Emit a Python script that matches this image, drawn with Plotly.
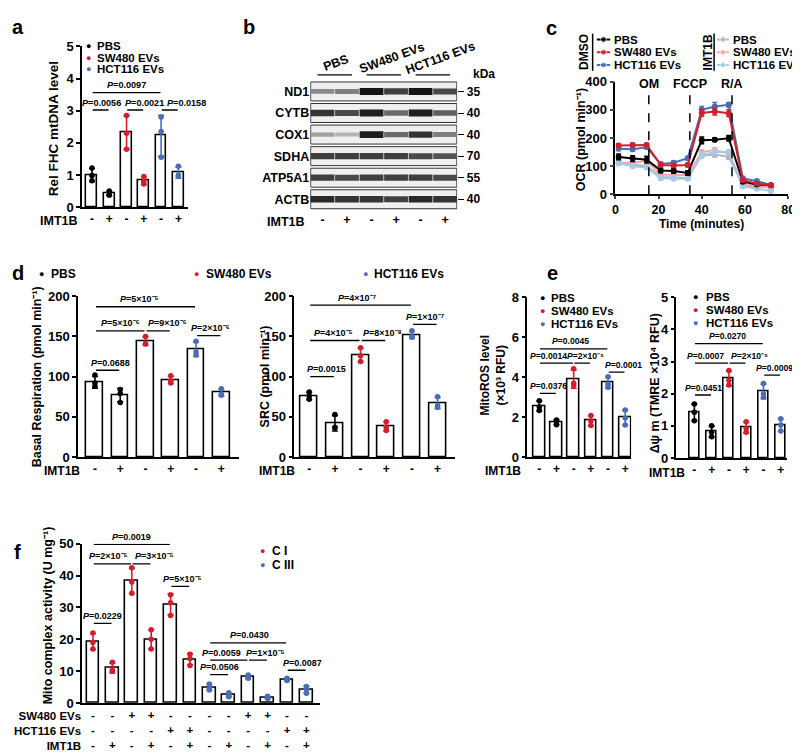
import numpy as np
import plotly.graph_objects as go

W, H = 800, 754
FONT = "Liberation Sans"
BLACK, RED, BLUE = "#000000", "#d0202e", "#4a6db4"
GREY, PINK, LBLUE = "#b5b5b5", "#f3a6ae", "#a6cbe9"

# ---------------- data ----------------
groups = ["PBS", "SW480 EVs", "HCT116 EVs"]
group_colors = [BLACK, RED, BLUE]
imt1b_signs = ["-", "+", "-", "+", "-", "+"]
bar_colors = [BLACK, BLACK, RED, RED, BLUE, BLUE]

# panel a : relative mtDNA level
a_mean = [1.0, 0.42, 2.32, 0.82, 2.22, 1.07]
a_pts = [[1.22, 0.98, 0.82], [0.50, 0.38, 0.38], [2.85, 2.30, 1.80],
         [0.95, 0.80, 0.72], [2.80, 2.35, 1.55], [1.27, 1.00, 0.95]]
# (bar i, bar j, bracket height, P value, text x-shift in px)
a_p = [(0, 4, 3.56, "0.0097", 0), (0, 1, 3.02, "0.0056", 1),
       (2, 3, 3.02, "0.0021", 9), (4, 5, 3.02, "0.0158", 17)]

# panel b : western blot (relative band darkness)
blot_rows = ["ND1", "CYTB", "COX1", "SDHA", "ATP5A1", "ACTB"]
blot_kda = ["35", "40", "40", "70", "55", "40"]
band = [
    [0.45, 0.50, 1.00, 0.80, 1.00, 0.75],
    [0.85, 0.75, 0.95, 0.60, 0.95, 0.65],
    [0.35, 0.25, 0.95, 0.60, 0.85, 0.50],
    [0.80, 0.80, 0.80, 0.80, 0.75, 0.70],
    [0.80, 0.75, 0.80, 0.80, 0.80, 0.75],
    [0.90, 0.85, 0.85, 0.80, 0.90, 0.85],
]

# panel c : OCR time course
c_time = [1.5, 8, 14.5, 21, 27, 33.5, 40, 46, 52.5, 59, 65.5, 72]
c_pbs = [133, 127, 123, 85, 83, 76, 192, 194, 199, 45, 35, 32]
c_sw = [173, 175, 175, 104, 102, 104, 289, 294, 288, 50, 38, 32]
c_hct = [162, 160, 167, 108, 112, 128, 300, 312, 318, 57, 47, 33]
c_pbs_i = [113, 106, 100, 62, 60, 58, 138, 141, 133, 33, 27, 26]
c_sw_i = [112, 112, 118, 70, 70, 68, 150, 157, 145, 37, 30, 23]
c_hct_i = [110, 100, 95, 57, 55, 55, 140, 150, 150, 28, 20, 12]
c_err_pbs = [10, 10, 12, 8, 8, 8, 12, 6, 10, 5, 4, 4]
c_err_sw = [6, 6, 6, 6, 6, 6, 12, 12, 12, 5, 4, 4]
c_err_hct = [6, 6, 6, 6, 6, 6, 12, 14, 8, 5, 5, 4]
c_err_i = [8, 6, 6, 6, 5, 5, 8, 8, 8, 4, 3, 3]
injections = [15.5, 34.5, 54.0]
injection_labels = ["OM", "FCCP", "R/A"]

# panel d
d_basal_mean = [93, 77, 144, 96, 134, 80]
d_basal_pts = [[102, 92, 88], [84, 79, 68], [150, 141, 141],
               [101, 95, 92], [144, 131, 127], [85, 78, 77]]
d_basal_p = [(0, 4, 187, "5×10⁻⁵", -6), (0, 2, 157, "5×10⁻⁶", 0),
             (2, 3, 157, "9×10⁻⁶", 9), (4, 5, 151, "2×10⁻⁶", 2),
             (0, 1, 108, "0.0688", 3)]
d_src_mean = [76, 42, 127, 38, 152, 67]
d_src_pts = [[81, 76, 72], [53, 37, 36], [136, 126, 119],
             [44, 37, 33], [157, 150, 149], [75, 64, 62]]
d_src_p = [(0, 4, 189, "4×10⁻⁷", -3), (0, 2, 145, "4×10⁻⁵", -1),
           (2, 3, 145, "8×10⁻⁸", 9), (4, 5, 165, "1×10⁻⁷", 1),
           (0, 1, 100, "0.0015", 4)]

# panel e
e_ros_mean = [2.55, 1.75, 3.90, 1.82, 3.72, 1.97]
e_ros_pts = [[2.82, 2.50, 2.33], [1.85, 1.78, 1.62], [4.42, 3.70, 3.58],
             [2.08, 1.80, 1.58], [4.02, 3.65, 3.49], [2.36, 1.95, 1.60]]
e_ros_p = [(0, 4, 5.42, "0.0045", -3), (0, 2, 4.70, "0.0014", -8),
           (2, 3, 4.70, "2×10⁻⁵", 3), (4, 5, 4.25, "0.0001", 7),
           (0, 1, 3.19, "0.0376", 1)]
e_tmre_mean = [1.42, 0.82, 2.47, 0.95, 2.07, 1.03]
e_tmre_pts = [[1.68, 1.42, 1.16], [1.00, 0.80, 0.66], [2.72, 2.42, 2.27],
              [1.13, 0.92, 0.80], [2.32, 2.00, 1.89], [1.22, 1.03, 0.84]]
e_tmre_p = [(0, 4, 3.56, "0.0270", -1), (0, 2, 2.95, "0.0007", -6),
            (2, 3, 2.95, "2×10⁻⁵", 12), (4, 5, 2.58, "0.0009", 2),
            (0, 1, 1.96, "0.0451", 1)]

# panel f
f_labels = ["C I", "C III"]
f_mean = [19.3, 11.0, 38.3, 20.0, 31.0, 13.7, 4.9, 2.5, 8.2, 1.7, 7.4, 4.2]
f_pts = [[22, 19, 17], [12.8, 10.3, 10], [42.5, 38, 34.5], [23, 20, 17],
         [34, 31.5, 27.5], [15.3, 14, 11.8], [6, 4.6, 4.1], [3.2, 2.3, 2.0],
         [8.8, 8.0, 7.8], [2.1, 1.6, 1.4], [7.8, 7.3, 7.1], [5.2, 4.3, 3.1]]
f_colors = [RED] * 6 + [BLUE] * 6
f_p = [(0, 4, 49.8, "0.0019", 0), (0, 2, 43.7, "2×10⁻⁵", -4),
       (2, 3, 43.7, "3×10⁻⁵", 13), (4, 5, 36.6, "5×10⁻⁵", 2),
       (0, 1, 25.0, "0.0229", 0), (6, 10, 18.9, "0.0430", 1),
       (6, 8, 13.5, "0.0059", -7), (8, 9, 13.5, "1×10⁻⁵", 8),
       (6, 7, 8.9, "0.0506", 0), (10, 11, 10.3, "0.0087", 6)]
f_sw = ["-", "-", "+", "+", "-", "-", "-", "-", "+", "+", "-", "-"]
f_hct = ["-", "-", "-", "-", "+", "+", "-", "-", "-", "-", "+", "+"]
f_imt = ["-", "+"] * 6

# ---------------- helpers ----------------
fig = go.Figure()
ann, shapes, lay = [], [], {}


def px(x):
    return x / W


def py(y):
    return 1 - y / H


def axref(n, k):
    return k if n == 1 else f"{k}{n}"


def axkey(n, k):
    return f"{k}axis" if n == 1 else f"{k}axis{n}"


def F(size, color="black"):
    return dict(family=FONT, size=size, color=color, weight="bold")


def text(x, y, s, size=12, anchor="center", color="black", angle=0, align="center"):
    ann.append(dict(xref="paper", yref="paper", x=px(x), y=py(y), text=s,
                    showarrow=False, xanchor=anchor, yanchor="middle",
                    textangle=angle, align=align, font=F(size, color)))


def vline_paper(x, y0, y1, w=1.5):
    shapes.append(dict(type="line", xref="paper", yref="paper", x0=px(x), x1=px(x),
                       y0=py(y0), y1=py(y1), line=dict(color="black", width=w)))


def dot_legend(xdot, xtext, ys, names, colors, size=11.5, dsize=9):
    for y, nm, c in zip(ys, names, colors):
        text(xdot, y, "●", size=dsize, color=c)
        text(xtext, y, nm, size=size, anchor="left")


def bar_panel(n, xdom, c0, step, ydom, yr, dtick, means, pts, cols, brackets,
              ticktext, bw, psize):
    xr, yrf = axref(n, "x"), axref(n, "y")
    idx = list(range(len(means)))
    fig.add_trace(go.Bar(x=idx, y=means, width=bw,
                         marker=dict(color="white", line=dict(color="black", width=1.6)),
                         xaxis=xr, yaxis=yrf, hoverinfo="skip"))
    for c in dict.fromkeys(cols):
        sel = [i for i in idx if cols[i] == c]
        sd = [float(np.std(pts[i], ddof=1)) for i in sel]
        fig.add_trace(go.Scatter(x=sel, y=[means[i] for i in sel], mode="markers",
                                 marker=dict(size=1, color=c),
                                 error_y=dict(type="data", array=sd, color=c,
                                              thickness=1.6, width=3),
                                 xaxis=xr, yaxis=yrf, hoverinfo="skip"))
        fig.add_trace(go.Scatter(x=[i for i in sel for _ in pts[i]],
                                 y=[v for i in sel for v in pts[i]], mode="markers",
                                 marker=dict(size=5.5, color=c), cliponaxis=False,
                                 xaxis=xr, yaxis=yrf, hoverinfo="skip"))
    for i, j, y, lab, dx in brackets:
        shapes.append(dict(type="line", xref=xr, yref=yrf, x0=i + 0.04, x1=j - 0.04,
                           y0=y, y1=y, line=dict(color="black", width=1.3)))
        ann.append(dict(xref=xr, yref=yrf, x=(i + j) / 2, y=y, xanchor="center",
                        text=f"<i>P</i>={lab}", showarrow=False, yanchor="bottom",
                        xshift=dx, yshift=0.5, font=F(psize)))
    lay[axkey(n, "x")] = dict(domain=[px(xdom[0]), px(xdom[1])],
                              range=[(xdom[0] - c0) / step, (xdom[1] - c0) / step],
                              anchor=yrf, showline=True, linecolor="black", linewidth=1.6,
                              ticks="", tickvals=idx, ticktext=ticktext, tickfont=F(12),
                              showgrid=False, zeroline=False, fixedrange=True)
    lay[axkey(n, "y")] = dict(domain=[py(ydom[0]), py(ydom[1])], range=yr, anchor=xr,
                              showline=True, linecolor="black", linewidth=1.6,
                              ticks="outside", ticklen=4, tickwidth=1.6, tickcolor="black",
                              dtick=dtick, tickfont=F(13), showgrid=False, zeroline=False,
                              fixedrange=True)


# ---------------- panel a ----------------
bar_panel(1, (72, 179), 82, 17.5, (196, 32), [0, 5], 1, a_mean, a_pts, bar_colors,
          a_p, imt1b_signs, 0.63, 9.1)
text(70, 210, "IMT1B", 12.5, anchor="right")
text(43, 116, "Rel FHC mtDNA level", 13.5, angle=-90)
dot_legend(78, 85, [32, 43.5, 55.5], groups, group_colors)

# ---------------- panel b ----------------
lay["xaxis2"] = dict(domain=[px(303), px(452)], range=[-0.5, 5.5], anchor="y2",
                     showline=False, showgrid=False, zeroline=False, ticks="",
                     tickvals=list(range(6)), ticktext=imt1b_signs, tickfont=F(12.5))
lay["yaxis2"] = dict(domain=[py(199), py(67)], range=[5.5, -0.5], anchor="x2",
                     showline=False, showgrid=False, zeroline=False, ticks="",
                     tickvals=list(range(6)), ticktext=blot_rows, tickfont=F(12.5))
lay["yaxis3"] = dict(overlaying="y2", side="right", anchor="x2", range=[5.5, -0.5],
                     tickvals=list(range(6)), ticktext=blot_kda, ticks="outside",
                     ticklen=6, tickwidth=1.2, tickcolor="black", showline=False,
                     showgrid=False, zeroline=False, tickfont=F(12))
for r, row in enumerate(band):
    shapes.append(dict(type="rect", xref="x2", yref="y2", x0=-0.48, x1=5.48,
                       y0=r - 0.44, y1=r + 0.44, fillcolor="#efefef",
                       line=dict(color="#333333", width=1), layer="below"))
    cols = [f"rgb({int(235 - 215 * v)},{int(235 - 215 * v)},{int(235 - 215 * v)})" for v in row]
    fig.add_trace(go.Scatter(x=list(range(6)), y=[r] * 6, mode="markers",
                             marker=dict(symbol="line-ew", size=17,
                                         line=dict(color=cols, width=[3 + 4 * v for v in row])),
                             xaxis="x2", yaxis="y2", hoverinfo="skip"))
fig.add_trace(go.Scatter(x=[0], y=[0], mode="markers", marker=dict(opacity=0),
                         xaxis="x2", yaxis="y3", hoverinfo="skip"))
text(300, 211, "IMT1B", 12.5, anchor="right")
text(466, 60, "kDa", 12, anchor="left")
for g, name in enumerate(groups):
    cx = (2 * g + 1) / 6
    shapes.append(dict(type="line", xref="x2 domain", yref="paper",
                       x0=cx - 0.7 / 6, x1=cx + 0.7 / 6, y0=py(61), y1=py(61),
                       line=dict(color="black", width=1.3)))
    ann.append(dict(xref="x2 domain", yref="paper", x=cx, y=py(49 if g == 0 else 44),
                    xanchor="center", yanchor="middle",
                    xshift=(1 if g == 0 else 8), text=name, showarrow=False,
                    textangle=-20, font=F(12.5)))

# ---------------- panel c ----------------
lay["xaxis4"] = dict(domain=[px(612), px(787)], range=[0, 80], dtick=20, anchor="y4",
                     showline=True, linecolor="black", linewidth=1.6, ticks="outside",
                     ticklen=3, tickwidth=1.6, tickfont=F(12.5), showgrid=False, zeroline=False)
lay["yaxis4"] = dict(domain=[py(183), py(68)], range=[0, 400], dtick=100, anchor="x4",
                     showline=True, linecolor="black", linewidth=1.6, ticks="outside",
                     ticklen=4, tickwidth=1.6, tickfont=F(13), showgrid=False, zeroline=False)
for t, lab in zip(injections, injection_labels):
    shapes.append(dict(type="line", xref="x4", yref="y4", x0=t, x1=t, y0=0, y1=380,
                       line=dict(color="black", width=1.5, dash="dash")))
    ann.append(dict(xref="x4", yref="y4", x=t, y=393, text=lab, showarrow=False,
                    xanchor="center", font=F(12.5)))
series = [(c_pbs_i, c_err_i, GREY), (c_sw_i, c_err_i, PINK), (c_hct_i, c_err_i, LBLUE),
          (c_pbs, c_err_pbs, BLACK), (c_hct, c_err_hct, BLUE), (c_sw, c_err_sw, RED)]
for vals, err, col in series:
    fig.add_trace(go.Scatter(x=c_time, y=vals, mode="lines+markers",
                             line=dict(color=col, width=2), marker=dict(size=6, color=col),
                             error_y=dict(type="data", array=err, color=col, thickness=1.5, width=2.5),
                             xaxis="x4", yaxis="y4", hoverinfo="skip"))
text(699, 213, "Time (minutes)", 12)
text(578, 127, "OCR (pmol min⁻¹)", 12.5, angle=-90)
# legend keys for panel c
for n, x0, x1, cols, lab, lx, vx, tx in [
        (10, 593, 607, [BLACK, RED, BLUE], "DMSO", 580, 589, 609),
        (11, 715, 727, [GREY, PINK, LBLUE], "IMT1B", 706, 712, 729)]:
    lay[axkey(n, "x")] = dict(domain=[px(x0), px(x1)], range=[0, 1], visible=False,
                              anchor=axref(n, "y"), fixedrange=True)
    lay[axkey(n, "y")] = dict(domain=[py(57.5), py(18.5)], range=[2.5, -0.5], visible=False,
                              anchor=axref(n, "x"), fixedrange=True)
    for r, c in enumerate(cols):
        fig.add_trace(go.Scatter(x=[0, 0.5, 1], y=[r, r, r], mode="lines+markers",
                                 line=dict(color=c, width=2), marker=dict(size=[0, 6, 0], color=c),
                                 cliponaxis=False, xaxis=axref(n, "x"), yaxis=axref(n, "y"),
                                 hoverinfo="skip"))
        text(tx, 25 + 13 * r, groups[r], 11.5, anchor="left")
    text(lx, 38, lab, 12, angle=-90)
    vline_paper(vx, 19, 57)

# ---------------- panel d ----------------
bar_panel(5, (68, 231), 85, 25.6, (451, 287), [0, 200], 50, d_basal_mean, d_basal_pts,
          bar_colors, d_basal_p, imt1b_signs, 0.66, 9.0)
bar_panel(6, (287, 450), 302, 26.0, (451, 287), [0, 200], 50, d_src_mean, d_src_pts,
          bar_colors, d_src_p, imt1b_signs, 0.66, 9.0)
text(72, 465, "IMT1B", 12, anchor="right")
text(290, 465, "IMT1B", 12, anchor="right")
text(26, 369, "Basal Respiration (pmol min⁻¹)", 12.5, angle=-90)
text(257, 369, "SRC (pmol min⁻¹)", 12.5, angle=-90)
for xd, xt, nm, c in [(31, 38, groups[0], BLACK), (188, 195, groups[1], RED),
                      (359, 366, groups[2], BLUE)]:
    text(xd, 264, "●", 9, color=c)
    text(xt, 264, nm, 12, anchor="left")

# ---------------- panel e ----------------
bar_panel(7, (523, 628), 535, 17.4, (451, 288), [0, 8], 2, e_ros_mean, e_ros_pts,
          bar_colors, e_ros_p, imt1b_signs, 0.67, 8.6)
bar_panel(8, (673, 786), 692, 17.5, (452, 288), [0, 5], 1, e_tmre_mean, e_tmre_pts,
          bar_colors, e_tmre_p, imt1b_signs, 0.58, 8.6)
lay["yaxis8"]["ticklen"] = 3
text(518, 465, "IMT1B", 12, anchor="right")
text(685, 467, "IMT1B", 12, anchor="right")
text(488, 367, "MitoROS level<br>(×10³ RFU)", 12, angle=-90)
text(652, 376, "Δψ m (TMRE ×10⁴ RFU)", 12.5, angle=-90)
dot_legend(538, 545, [289, 302, 315], groups, group_colors)
dot_legend(693, 702, [288, 301, 314], groups, group_colors)

# ---------------- panel f ----------------
f_ticks = [f"{a}<br>{b}<br>{c}" for a, b, c in zip(f_sw, f_hct, f_imt)]
bar_panel(9, (72, 313), 83, 19.65, (702, 539.5), [0, 50], 10, f_mean, f_pts, f_colors,
          f_p, f_ticks, 0.65, 9.0)
lay["xaxis9"]["tickfont"] = F(11.5)
text(73, 731, "SW480 EVs<br>HCT116 EVs<br>IMT1B", 11.5, anchor="right", align="right")
text(37, 613, "Mito complex activity (U mg⁻¹)", 12.5, angle=-90)
dot_legend(255, 262, [547, 561], f_labels, [RED, BLUE], size=12)

# ---------------- panel letters ----------------
for lab, x, y in [("a", 7, 12), ("b", 241, 12), ("c", 547, 13), ("d", 7, 263),
                  ("e", 548, 263), ("f", 7, 548)]:
    text(x, y, lab, 20)

fig.update_layout(width=W, height=H, margin=dict(l=0, r=0, t=0, b=0),
                  paper_bgcolor="white", plot_bgcolor="rgba(0,0,0,0)",
                  showlegend=False, font=F(12), annotations=ann, shapes=shapes,
                  bargap=0, **lay)
fig.write_html("out.html")
